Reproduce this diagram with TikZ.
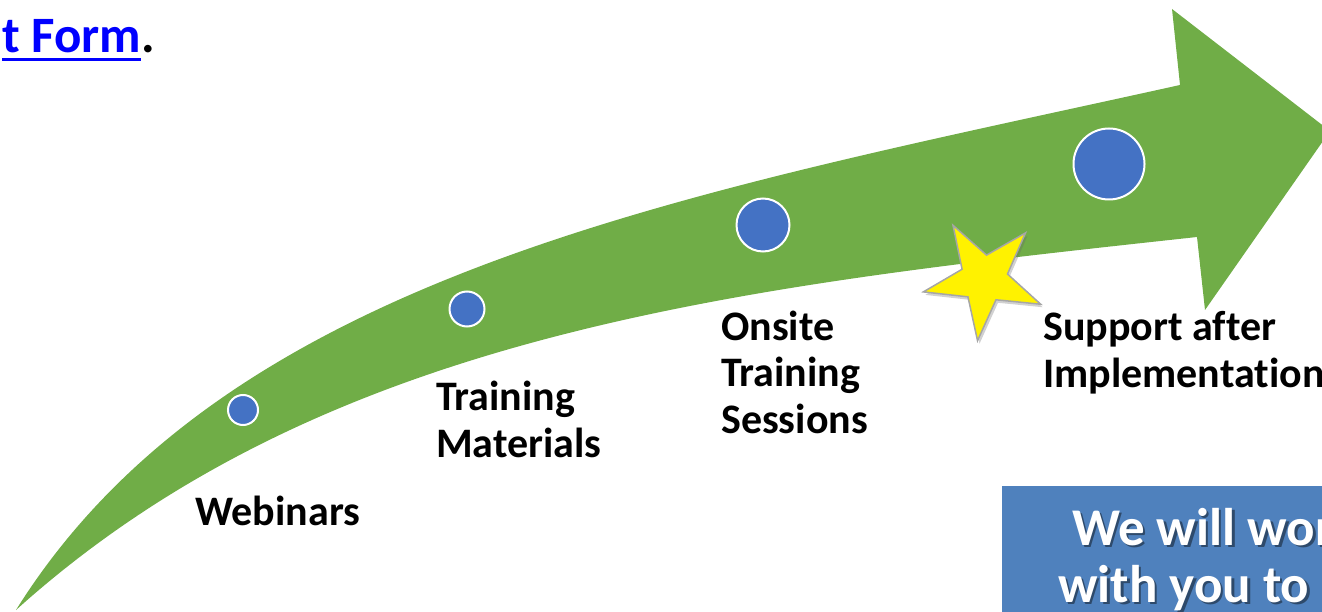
\documentclass[tikz,border=0pt]{standalone}
\usepackage{fontspec}
\setmainfont{Carlito}[Ligatures=NoCommon]
\usetikzlibrary{shadows}
\definecolor{okyesil}{HTML}{70AD47}
\definecolor{noktamavi}{HTML}{4472C4}
\definecolor{kutumavi}{HTML}{4F81BD}
\definecolor{kutugolge}{HTML}{2E4A6B}
\definecolor{baglanti}{HTML}{0000FF}
\definecolor{yildizkenar}{HTML}{A6A6A6}
% golgeli beyaz yazi (kutu icin)
\newcommand{\golgeli}[1]{\makebox[0pt][l]{\hspace{2.5pt}\raisebox{-2.5pt}{\color{kutugolge}#1}}#1}
\begin{document}
\begin{tikzpicture}[x=1pt, y=1pt,
  etiket/.style={anchor=base west, inner sep=0pt, align=left,
    font=\fontsize{42}{46.5}\selectfont\bfseries},
  kutuyazi/.style={anchor=base west, inner sep=0pt, text=white,
    font=\fontsize{53}{57}\selectfont\bfseries},
  nokta/.style={circle, fill=noktamavi, draw=white, line width=2pt, inner sep=0pt}]
  \useasboundingbox (0,0) rectangle (1322,611);
  % ustteki baglanti yazisi
  \node[anchor=base west, inner sep=0pt, text=baglanti,
    font=\fontsize{51}{60}\selectfont\bfseries] (form) at (2,558) {t Form};
  \node[anchor=base west, inner sep=0pt,
    font=\fontsize{51}{60}\selectfont\bfseries] (son) at (form.base east) {.};
  \draw[baglanti, line width=3pt] ([yshift=-6.5pt]form.base west) -- ([yshift=-6.5pt]form.base east);
  % yesil egri ok
  \fill[okyesil] (16,1) .. controls (228,340) and (692,418) .. (1180,526)
    -- (1172,602) -- (1330,480) -- (1205,301) -- (1197,374)
    .. controls (748,325) and (328,282) .. (16,1) -- cycle;
  % ok uzerindeki noktalar
  \foreach \i/\x/\y/\d in {1/243/201/30, 2/467/302/35, 3/763/386/53, 4/1109/447/71}
    \node[nokta, minimum size=\d] (n\i) at (\x,\y) {};
  % yildiz
  \draw[fill=yellow, draw=yildizkenar, line width=1.5pt,
    drop shadow={opacity=0.3, shadow xshift=2pt, shadow yshift=-3pt, fill=black!60},
    shift={(984,332)}] (120:62)
    \foreach \a in {120,192,264,336,408} { -- (\a:62) -- (\a+36:24) } -- cycle;
  % adim etiketleri (taban = son satir)
  \node[etiket] (webinar) at (195,86) {Webinars};
  \node[etiket] (materyal) at (436,154) {Training\\Materials};
  \node[etiket] (yerinde) at (721,178) {Onsite\\Training\\Sessions};
  \node[etiket] (destek) at (1043,224) {Support after\\Implementation};
  % sag alttaki mavi kutu
  \fill[kutumavi] (1002,-10) rectangle (1340,125);
  \node[kutuyazi] (kutu1) at (1072,66) {\golgeli{We will wor}};
  \node[kutuyazi] (kutu2) at (1058,9) {\golgeli{with you to}};
\end{tikzpicture}
\end{document}
